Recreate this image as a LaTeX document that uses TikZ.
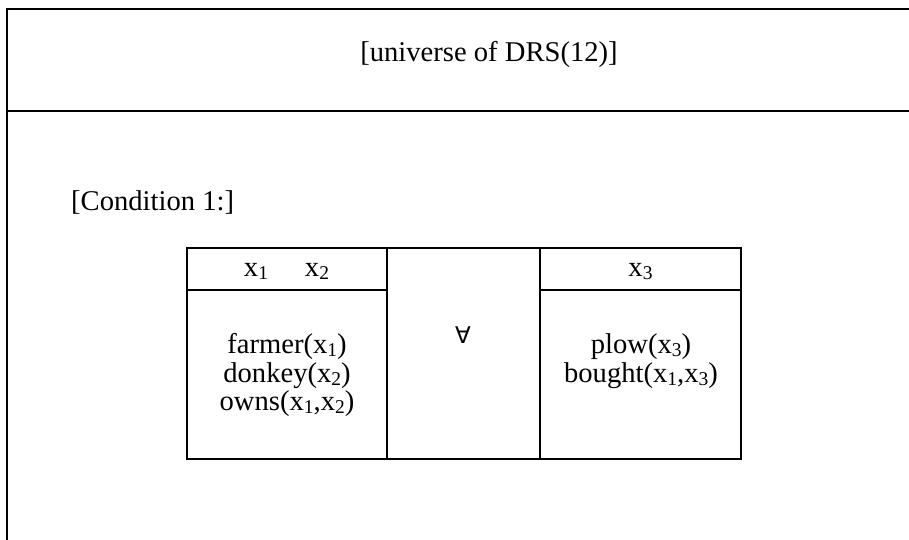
\documentclass[tikz,border=0pt]{standalone}
\usepackage{fontspec}
\setmainfont{Liberation Serif}
\newfontfamily\symfont{DejaVu Sans}
% variable with a lowered, smaller index
\newcommand\sx[1]{x\raisebox{-0.12em}{\fontsize{19.5}{19.5}\selectfont #1}}

\begin{document}
\begin{tikzpicture}[x=1pt,y=-1pt,
  outer/.style={line width=2pt},
  grid/.style={line width=1.5pt},
  txt/.style={inner sep=0pt, anchor=base, font=\fontsize{28.6}{30}\selectfont}]
\useasboundingbox (0,0) rectangle (909,540);

% outer DRS frame with its universe row
\begin{scope}
  \clip (0,0) rectangle (909,540);
  \draw[outer] (7,560) -- (7,9) -- (930,9);
  \draw[outer] (7,111) -- (930,111);
\end{scope}
\node[txt] (univ) at (489,62) {[universe of DRS(12)]};
\node[txt, anchor=base west] (cond) at (71,210) {[Condition 1:]};

% conditional sub-DRS: antecedent | quantifier | consequent
\draw[grid] (187,248) rectangle (741,459);
\draw[grid] (387,248) -- (387,459);
\draw[grid] (540,248) -- (540,459);
\draw[grid] (187,290) -- (387,290);
\draw[grid] (540,290) -- (741,290);

% antecedent
\node[txt] (hx1) at (256,276) {\sx{1}};
\node[txt] (hx2) at (317,276) {\sx{2}};
\node[txt] (farmer) at (287,353) {farmer(\sx{1})};
\node[txt] (donkey) at (287,382) {donkey(\sx{2})};
\node[txt] (owns) at (287,410) {owns(\sx{1},\sx{2})};

% quantifier
\node[inner sep=0pt, font=\symfont\fontsize{23}{23}\selectfont] (forall) at (463,335) {∀};

% consequent
\node[txt] (hx3) at (640.5,276) {\sx{3}};
\node[txt] (plow) at (641,353) {plow(\sx{3})};
\node[txt] (bought) at (641,382) {bought(\sx{1},\sx{3})};
\end{tikzpicture}
\end{document}
